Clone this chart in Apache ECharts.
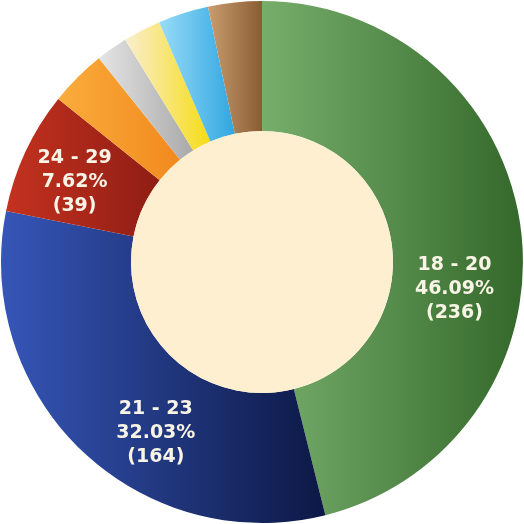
<!DOCTYPE html>
<html><head><meta charset="utf-8">
<script src="https://cdn.jsdelivr.net/npm/echarts@6/dist/echarts.min.js"></script>
<style>html,body{margin:0;padding:0;background:#fff}#c{width:524px;height:524px}</style>
</head><body><div id="c"></div>
<script>
const categories = ['18 - 20', '21 - 23', '24 - 29', '30 - 39', '40 - 49', '50 - 59', '60+', 'Unknown'];
const values = [236, 164, 39, 18, 10, 12, 16, 17];
const lightColors = ['#78ae6c', '#3656b8', '#c4321f', '#f9ad3c', '#e4e4e4', '#faeed0', '#98dcf8', '#c99d70'];
const darkColors  = ['#33682a', '#0c1845', '#8f1d14', '#f2891e', '#a9a9a9', '#f6dc14', '#30a6e0', '#8a5c32'];
const labelShift = {0: [-5, 51], 1: [31, 27], 2: [-7, 4]};
const total = values.reduce((a, b) => a + b, 0);

const data = categories.map((name, i) => ({
  name, value: values[i],
  itemStyle: { color: new echarts.graphic.LinearGradient(0, 0, 1, 0, [
    { offset: 0, color: lightColors[i] }, { offset: 1, color: darkColors[i] }]) },
  label: { show: i < 3 }
}));

const chart = echarts.init(document.getElementById('c'));
chart.setOption({
  animation: false,
  series: [{
    type: 'pie',
    center: ['50%', '50%'],
    radius: ['50%', '99.6%'],
    startAngle: 90,
    clockwise: true,
    avoidLabelOverlap: false,
    data,
    itemStyle: { borderWidth: 0 },
    label: {
      position: 'inside',
      color: '#f8f4e6',
      fontFamily: 'DejaVu Sans',
      fontWeight: 'bold',
      fontSize: 19,
      lineHeight: 24,
      formatter: p => p.name + '\n' + (p.value / total * 100).toFixed(2) + '%\n(' + p.value + ')'
    },
    labelLine: { show: false },
    labelLayout: p => {
      const s = labelShift[p.dataIndex] || [0, 0];
      return { dx: s[0], dy: s[1] };
    }
  }, {
    type: 'pie',
    center: ['50%', '50%'],
    radius: [0, '50%'],
    silent: true,
    label: { show: false },
    labelLine: { show: false },
    data: [{ value: 1, name: 'center', itemStyle: { color: '#fdefcf' } }]
  }]
});
</script></body></html>
